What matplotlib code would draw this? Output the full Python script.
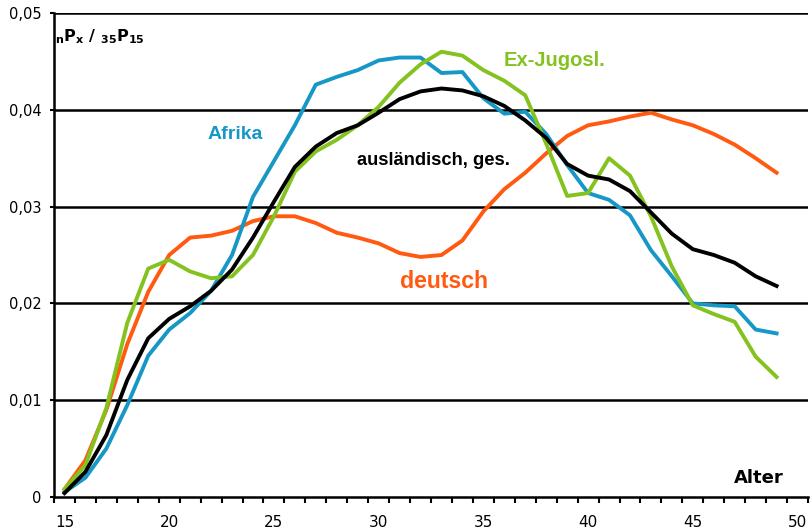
import matplotlib
matplotlib.use("Agg")
import matplotlib.pyplot as plt
from matplotlib.ticker import MultipleLocator, FixedLocator, FuncFormatter
import numpy as np

ages = list(range(15, 50))

deutsch = [0.0008, 0.0038, 0.0090, 0.0158, 0.0212, 0.0250, 0.0268, 0.0270, 0.0275, 0.0285,
           0.0290, 0.0290, 0.0283, 0.0273, 0.0268, 0.0262, 0.0252, 0.0248, 0.0250, 0.0265,
           0.0295, 0.0318, 0.0335, 0.0355, 0.0373, 0.0384, 0.0388, 0.0393, 0.0397, 0.0390,
           0.0384, 0.0375, 0.0364, 0.0350, 0.0335]
afrika = [0.0005, 0.0020, 0.0050, 0.0095, 0.0146, 0.0173, 0.0190, 0.0213, 0.0250, 0.0310,
          0.0347, 0.0384, 0.0426, 0.0434, 0.0441, 0.0451, 0.0454, 0.0454, 0.0438, 0.0439,
          0.0412, 0.0396, 0.0398, 0.0375, 0.0343, 0.0314, 0.0307, 0.0291, 0.0255, 0.0228,
          0.0200, 0.0198, 0.0197, 0.0173, 0.0169]
jugosl = [0.0008, 0.0033, 0.0092, 0.0180, 0.0236, 0.0245, 0.0233, 0.0226, 0.0228, 0.0250,
          0.0290, 0.0336, 0.0357, 0.0369, 0.0384, 0.0403, 0.0428, 0.0447, 0.0460, 0.0456,
          0.0441, 0.0430, 0.0415, 0.0365, 0.0311, 0.0314, 0.0350, 0.0332, 0.0290, 0.0238,
          0.0198, 0.0189, 0.0181, 0.0145, 0.0124]
ausl = [0.0004, 0.0026, 0.0064, 0.0121, 0.0164, 0.0184, 0.0197, 0.0213, 0.0235, 0.0268,
        0.0305, 0.0341, 0.0362, 0.0376, 0.0384, 0.0397, 0.0411, 0.0419, 0.0422, 0.0420,
        0.0414, 0.0404, 0.0389, 0.0371, 0.0344, 0.0332, 0.0328, 0.0316, 0.0294, 0.0272,
        0.0256, 0.0250, 0.0242, 0.0228, 0.0218]

x_labels = [15, 20, 25, 30, 35, 40, 45, 50]

c_de = "#FF5A0F"
c_af = "#1797C6"
c_ju = "#84C220"
c_au = "#000000"

plt.rcParams['font.family'] = ['Liberation Sans', 'DejaVu Sans']

fig = plt.figure(figsize=(8.1, 5.32), dpi=100)
ax = fig.add_axes([54/810, 35/532, (808-54)/810, (519-35)/532])

ax.set_xlim(14.5, 50.5)
ax.set_ylim(0, 0.05)

for y in [0.01, 0.02, 0.03, 0.04, 0.05]:
    ax.axhline(y, color="black", lw=1.8, zorder=1)

lw = 2.8
ax.plot(ages, deutsch, color=c_de, lw=lw, zorder=3, solid_joinstyle='round')
ax.plot(ages, afrika, color=c_af, lw=lw, zorder=3, solid_joinstyle='round')
ax.plot(ages, jugosl, color=c_ju, lw=lw, zorder=4, solid_joinstyle='round')
ax.plot(ages, ausl, color=c_au, lw=lw, zorder=5, solid_joinstyle='round')

for s in ["top", "right"]:
    ax.spines[s].set_visible(False)
ax.spines["left"].set_linewidth(1.8)
ax.spines["bottom"].set_linewidth(1.8)

ax.xaxis.set_major_locator(FixedLocator(x_labels))
ax.xaxis.set_minor_locator(FixedLocator(np.arange(14.5, 50.6, 1.0)))
ax.yaxis.set_major_locator(MultipleLocator(0.01))
ax.yaxis.set_major_formatter(FuncFormatter(lambda v, p: "0" if abs(v) < 1e-9 else f"{v:.2f}".replace(".", ",")))
ax.tick_params(axis="x", which="major", length=0, labelsize=11, pad=13)
ax.tick_params(axis="x", which="minor", length=4, width=1.5, direction="out")
ax.tick_params(axis="y", which="major", length=3, width=1.5, labelsize=10.5, pad=6)
for lab in ax.get_xticklabels() + ax.get_yticklabels():
    lab.set_fontfamily("DejaVu Sans")

ax.text(21.84, 0.0370, "Afrika", color=c_af, fontweight="bold", fontsize=14)
ax.text(28.97, 0.0343, "ausländisch, ges.", color=c_au, fontweight="bold", fontsize=13.2)
ax.text(35.96, 0.0445, "Ex-Jugosl.", color=c_ju, fontweight="bold", fontsize=14.5)
ax.text(31.03, 0.0216, "deutsch", color=c_de, fontweight="bold", fontsize=16.6)
ax.text(46.96, 0.00145, "Alter", color="black", fontweight="bold", fontsize=13,
        family="DejaVu Sans")
ax.text(14.55, 0.0471, r"$_{\mathbf{n}}\mathbf{P}_{\mathbf{x}}$ / $_{\mathbf{35}}\mathbf{P}_{\mathbf{15}}$",
        color="black", fontweight="bold", fontsize=11.5, family="DejaVu Sans")

fig.savefig("out.png", dpi=100)
